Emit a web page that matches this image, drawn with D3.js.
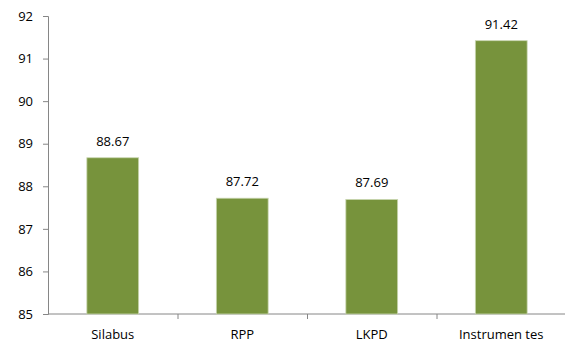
<!DOCTYPE html>
<html>
<head>
<meta charset="utf-8">
<script src="https://cdn.jsdelivr.net/npm/d3@7"></script>
<style>
  body { margin: 0; background: #fff; }
  text { font-family: "Open Sans", "DejaVu Sans", sans-serif; fill: #000; }
</style>
</head>
<body>
<svg id="chart" width="565" height="343"></svg>
<script>
const categories = ["Silabus", "RPP", "LKPD", "Instrumen tes"];
const scores = [88.67, 87.72, 87.69, 91.42];
const yTicks = [85, 86, 87, 88, 89, 90, 91, 92];

const svg = d3.select("#chart");
const mLeft = 48, mRight = 566, mTop = 16, mBottom = 314;

const x = d3.scaleBand()
  .domain(categories)
  .range([mLeft, mRight])
  .padding(0);

const y = d3.scaleLinear()
  .domain([85, 92])
  .range([mBottom, mTop]);

// y axis
const ya = svg.append("g")
  .attr("transform", `translate(${mLeft},0)`)
  .call(d3.axisLeft(y).tickValues(yTicks).tickFormat(d3.format("d")).tickSize(5).tickPadding(10));
ya.selectAll("path, line").attr("stroke", "#868686");
ya.selectAll("text").style("font-size", "13px");

// x axis with ticks between categories
const xa = svg.append("g")
  .attr("transform", `translate(0,${mBottom})`);
xa.append("line")
  .attr("x1", mLeft).attr("x2", mRight)
  .attr("stroke", "#868686");
xa.selectAll("line.tick")
  .data(categories.slice(1))
  .enter()
  .append("line")
  .attr("class", "tick")
  .attr("x1", d => x(d) + 0.5).attr("x2", d => x(d) + 0.5)
  .attr("y1", 0).attr("y2", 5)
  .attr("stroke", "#868686");
xa.selectAll("text")
  .data(categories)
  .enter()
  .append("text")
  .attr("x", d => x(d) + x.bandwidth() / 2)
  .attr("y", 25)
  .attr("text-anchor", "middle")
  .style("font-size", "13px")
  .text(d => d);

const barW = x.bandwidth() * 0.4;

svg.selectAll("rect.bar")
  .data(categories)
  .enter()
  .append("rect")
  .attr("class", "bar")
  .attr("x", d => x(d) + (x.bandwidth() - barW) / 2)
  .attr("y", (d, i) => y(scores[i]))
  .attr("width", barW)
  .attr("height", (d, i) => mBottom - y(scores[i]))
  .attr("fill", "#77933C")
  .attr("stroke", "#c9d6b0")
  .attr("stroke-width", 0.8);

svg.selectAll("text.val")
  .data(categories)
  .enter()
  .append("text")
  .attr("class", "val")
  .attr("x", d => x(d) + x.bandwidth() / 2)
  .attr("y", (d, i) => y(scores[i]) - 12)
  .attr("text-anchor", "middle")
  .style("font-size", "13px")
  .text((d, i) => scores[i].toFixed(2));
</script>
</body>
</html>
